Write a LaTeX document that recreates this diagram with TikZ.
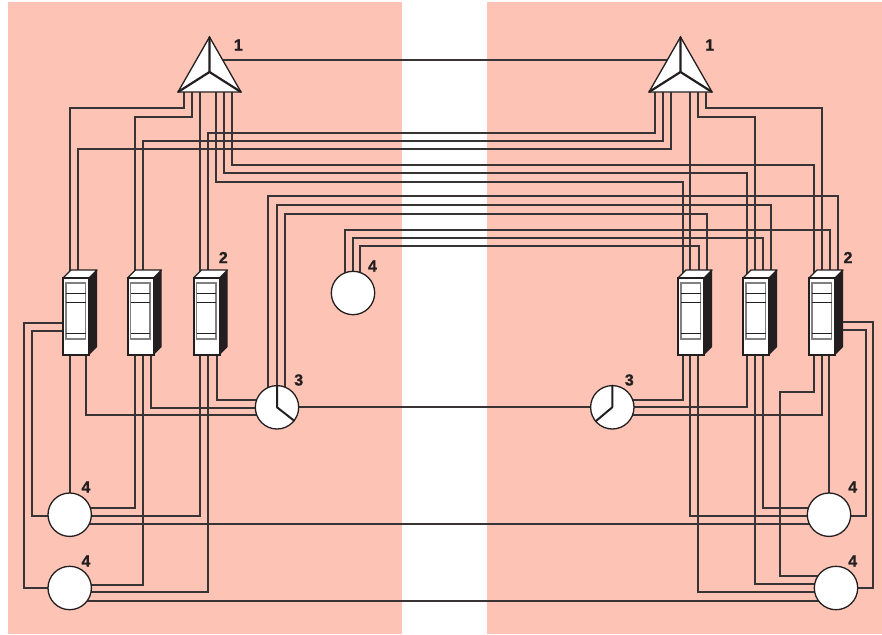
\documentclass[tikz,border=0pt]{standalone}
\usepackage{fontspec}
\setmainfont{Liberation Sans}
\newfontfamily\tagfont[BoldFeatures={FakeBold=1.2}]{Liberation Sans}
\pgfdeclarelayer{panels}
\pgfdeclarelayer{wires}
\pgfsetlayers{panels,wires,main}
\definecolor{panelc}{HTML}{FDC3B5}
\definecolor{ink}{HTML}{231F20}
\definecolor{wirec}{HTML}{383435}
\tikzset{
  wire/.style={draw=wirec,line width=2pt},
  disc/.style={circle,draw=ink,fill=white,line width=1.3pt,minimum size=43.4pt,inner sep=0pt,outer sep=0pt},
  hand/.style={draw=ink,line width=2pt,line cap=round},
  housing/.style={rectangle,draw=ink,fill=white,line width=2pt,minimum width=26pt,minimum height=77pt,inner sep=0pt,outer sep=0pt},
  triframe/.style={rectangle,minimum width=63pt,minimum height=55pt,inner sep=0pt,outer sep=0pt},
  tag/.style={inner sep=0pt,font=\tagfont\fontsize{16}{16}\selectfont\bfseries,text=ink}
}
\newcommand{\switchunit}[2]{%
  \begin{scope}[shift={(#2,0)}]
    \fill[ink] (26,278) -- (34,270) -- (34,347) -- (26,355) -- cycle;
    \draw[draw=ink,fill=white,line width=1.3pt,line join=round] (0,278) -- (8,270) -- (34,270) -- (26,278) -- cycle;
    \node[housing] (#1) at (13,316.5) {};
    \draw[draw=ink,line width=2pt] (-0.8,355) -- (26.8,355);
    \draw[draw=gray,line width=1.2pt] (3,283) rectangle (22.5,339);
    \draw[draw=ink,line width=1pt] (3,293.3) -- (22.5,293.3) (3,302) -- (22.5,302) (3,333.3) -- (22.5,333.3);
  \end{scope}}
\newcommand{\antenna}[2]{%
  \begin{scope}[shift={(#2,0)}]
    \node[triframe] (#1) at (0,64.5) {};
    \draw[draw=ink,fill=white,line width=1.3pt,line join=miter] (#1.north) -- (#1.south east) -- (#1.south west) -- cycle;
    \draw[draw=ink,line width=2.2pt] (#1.north) -- (0,72) (#1.south west) -- (0,72) -- (#1.south east);
  \end{scope}}
\begin{document}
\begin{tikzpicture}[x=1pt,y=-1pt]
\useasboundingbox (0,0) rectangle (882,634);
\begin{pgfonlayer}{panels}
  \fill[white] (0,0) rectangle (882,634);
  \fill[panelc] (8,2) rectangle (402,634);
  \fill[panelc] (487,2) rectangle (882,634);
\end{pgfonlayer}

\antenna{TL}{209.5}
\antenna{TR}{680.5}
\switchunit{SLa}{63}
\switchunit{SLb}{127.5}
\switchunit{SLc}{193.5}
\switchunit{SRa}{678}
\switchunit{SRb}{743}
\switchunit{SRc}{809}
\node[disc] (CT) at (353,293) {};
\node[disc] (CsL) at (277,407.3) {};
\node[disc] (CsR) at (612.3,407.3) {};
\node[disc] (CA) at (69.7,514.7) {};
\node[disc] (CB) at (69.7,588) {};
\node[disc] (CC) at (829,514.7) {};
\node[disc] (CD) at (836,588) {};
\draw[hand] (CsL.center) -- (CsL.north) (CsL.center) -- (CsL.-38);
\draw[hand] (CsR.center) -- (CsR.north) (CsR.center) -- (CsR.220);

\node[tag] (la) at (238.3,45) {1};
\node[tag] (lb) at (709.7,45) {1};
\node[tag] (lc) at (223.3,257.5) {2};
\node[tag] (ld) at (848,257.5) {2};
\node[tag] (le) at (298.7,380) {3};
\node[tag] (lf) at (629.3,380) {3};
\node[tag] (lg) at (372.5,266) {4};
\node[tag] (lh) at (86,487) {4};
\node[tag] (li) at (86,561) {4};
\node[tag] (lj) at (852.7,487) {4};
\node[tag] (lk) at (852.7,561) {4};

\begin{pgfonlayer}{wires}
% left antenna
\draw[wire] (TL.south -| 184,0) |- (70,108) -- (SLa.north -| 70,0);
\draw[wire] (TL.south -| 192,0) |- (135,116.7) -- (SLb.north -| 135,0);
\draw[wire] (TL.south -| 200.3,0) -- (SLc.north -| 200.3,0);
\draw[wire] (TL.south -| 216,0) |- (682.7,181.7) -- (SRa.north -| 682.7,0);
\draw[wire] (TL.south -| 224,0) |- (747,173) -- (SRb.north -| 747,0);
\draw[wire] (TL.south -| 232,0) |- (814,165) -- (SRc.north -| 814,0);
% right antenna
\draw[wire] (TR.south -| 655.3,0) |- (208,132.7) -- (SLc.north -| 208,0);
\draw[wire] (TR.south -| 663,0) |- (143,140.7) -- (SLb.north -| 143,0);
\draw[wire] (TR.south -| 671.3,0) |- (78,149) -- (SLa.north -| 78,0);
\draw[wire] (TR.south -| 690.3,0) -- (SRa.north -| 690.3,0);
\draw[wire] (TR.south -| 698,0) |- (754.5,116.7) -- (SRb.north -| 754.5,0);
\draw[wire] (TR.south -| 706,0) |- (821.7,108) -- (SRc.north -| 821.7,0);
\draw[wire] (TL.center |- 0,60) -- (TR.center |- 0,60);
% left star to right switches
\draw[wire] (CsL.center -| 268.3,0) |- (837.5,196) -- (SRc.north -| 837.5,0);
\draw[wire] (CsL.center -| 277.3,0) |- (771,205.3) -- (SRb.north -| 771,0);
\draw[wire] (CsL.center -| 285.3,0) |- (707,213.7) -- (SRa.north -| 707,0);
% top station to right switches
\draw[wire] (CT.center -| 345,0) |- (830,230) -- (SRc.north -| 830,0);
\draw[wire] (CT.center -| 352.5,0) |- (762.7,238) -- (SRb.north -| 762.7,0);
\draw[wire] (CT.center -| 360,0) |- (699,245.7) -- (SRa.north -| 699,0);
% left switches, below
\draw[wire] (SLa.south -| CA.north) -- (CA.north);
\draw[wire] (SLa.south -| 86,0) |- (CsL.center |- 0,415.3);
\draw[wire] (SLb.south -| 135,0) |- (CA.center |- 0,508.3);
\draw[wire] (SLb.south -| 143,0) |- (CB.center |- 0,584.7);
\draw[wire] (SLb.south -| 151.3,0) |- (CsL.center |- 0,407.7);
\draw[wire] (SLc.south -| 200.3,0) |- (CA.center |- 0,516);
\draw[wire] (SLc.south -| 208,0) |- (CB.center |- 0,592);
\draw[wire] (SLc.south -| 216.7,0) |- (CsL.center |- 0,400);
\draw[wire] (SLa.center |- 0,322.7) -| (24,588) -- (CB.center |- 0,588);
\draw[wire] (SLa.center |- 0,330.7) -| (31.7,516) -- (CA.center |- 0,516);
% across the gap
\draw[wire] (CsL) -- (CsR);
\draw[wire] (CA.center |- 0,524.3) -- (CC.center |- 0,524.3);
\draw[wire] (CB.center |- 0,600.7) -- (CD.center |- 0,600.7);
% right switches, below
\draw[wire] (SRa.south -| 682.7,0) |- (CsR.center |- 0,399.7);
\draw[wire] (SRa.south -| 690.3,0) |- (CC.center |- 0,516);
\draw[wire] (SRa.south -| 698.3,0) |- (CD.center |- 0,591.7);
\draw[wire] (SRb.south -| 747,0) |- (CsR.center |- 0,407);
\draw[wire] (SRb.south -| 754.5,0) |- (CD.center |- 0,584);
\draw[wire] (SRb.south -| 762.5,0) |- (CC.center |- 0,508);
\draw[wire] (SRc.south -| 814,0) |- (780,392) |- (CD.center |- 0,575.7);
\draw[wire] (SRc.south -| 821.5,0) |- (CsR.center |- 0,415);
\draw[wire] (SRc.south -| CC.north) -- (CC.north);
\draw[wire] (SRc.center |- 0,322) -| (873.3,588) -- (CD.center |- 0,588);
\draw[wire] (SRc.center |- 0,330) -| (866,516) -- (CC.center |- 0,516);
\end{pgfonlayer}
\end{tikzpicture}
\end{document}
